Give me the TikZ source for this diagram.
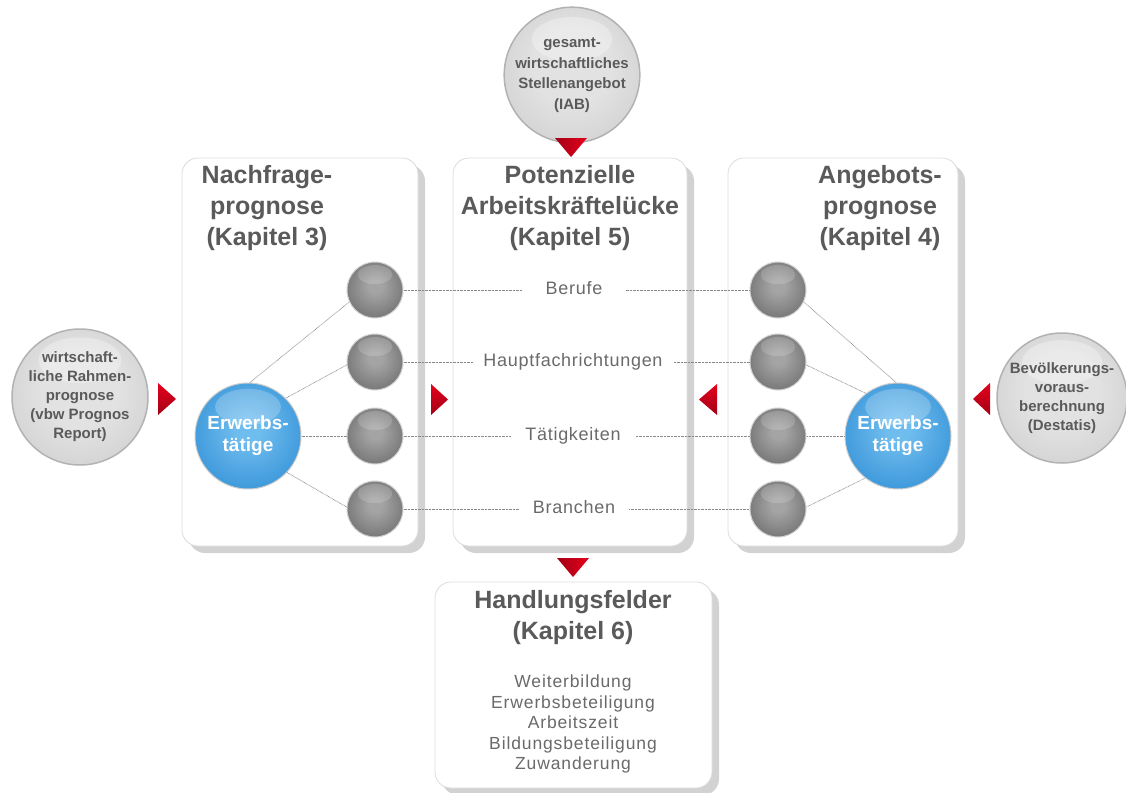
\documentclass[tikz,border=0pt]{standalone}
\usepackage{fontspec}
\setmainfont{Liberation Sans}
\usetikzlibrary{shadows}
\definecolor{txt}{HTML}{5A5A5A}
\definecolor{lbl}{HTML}{6A6A6A}
\definecolor{shadowc}{HTML}{D2D2D2}
\definecolor{boxline}{HTML}{DCDCDC}
\definecolor{redA}{HTML}{E5001C}
\definecolor{redB}{HTML}{A30016}
\definecolor{dotc}{HTML}{8A8A8A}
\definecolor{dbA}{HTML}{A4A4A4}
\definecolor{dbB}{HTML}{6E6E6E}
\definecolor{dbC}{HTML}{353535}
\definecolor{blA}{HTML}{6FBCEE}
\definecolor{blB}{HTML}{3391D6}
\definecolor{blC}{HTML}{1B63A3}
\definecolor{gbA}{HTML}{E2E2E2}
\definecolor{gbB}{HTML}{CCCCCC}
\definecolor{gbC}{HTML}{A6A6A6}
\pgfdeclareradialshading{darkball}{\pgfpoint{0bp}{4bp}}{color(0bp)=(dbA); color(6bp)=(dbA); color(32bp)=(dbB); color(50bp)=(dbC)}
\pgfdeclareradialshading{blueball}{\pgfpoint{0bp}{4bp}}{color(0bp)=(blA); color(6bp)=(blA); color(32bp)=(blB); color(50bp)=(blC)}
\pgfdeclareradialshading{grayball}{\pgfpoint{0bp}{4bp}}{color(0bp)=(gbA); color(14bp)=(gbA); color(36bp)=(gbB); color(50bp)=(gbC)}
\tikzset{
  panel/.style={draw=boxline, line width=0.8pt, fill=white, rounded corners=16pt,
    drop shadow={shadow xshift=7pt, shadow yshift=-7pt, fill=shadowc, opacity=1}},
  glare/.style 2 args={path picture={\fill[white, fill opacity=#2]
      ([yshift=#1*0.55pt]path picture bounding box.center) ellipse [x radius=#1*0.62pt, y radius=#1*0.34pt];}},
  sphere/.style={circle, shading=darkball, draw=white!82!black, line width=1pt,
    minimum size=56pt, inner sep=0pt, glare={28}{0.16}},
  blueb/.style={circle, shading=blueball, draw=white!80!black, line width=1pt,
    minimum size=106pt, inner sep=0pt, glare={53}{0.22}, text=white, align=center,
    font=\fontsize{19}{22}\selectfont\bfseries},
  srcb/.style={circle, shading=grayball, draw=white!70!black, line width=1.5pt,
    inner sep=0pt, glare={#1}{0.3}, minimum size=2*#1 pt, text=txt, align=center},
  title/.style={anchor=north, inner sep=0pt, text=txt, align=center,
    font=\fontsize{25}{31}\selectfont\bfseries},
  rowlbl/.style={text=lbl, inner xsep=13pt, inner ysep=0pt, text height=13pt, text depth=4pt,
    font=\fontsize{18}{20}\selectfont\addfontfeatures{LetterSpace=4}},
  dotline/.style={draw=dotc, line width=0.7pt, dash pattern=on 0.7pt off 0.7pt},
  redL/.style={top color=redA, bottom color=redB},
  redD/.style={left color=redB, right color=redA}
}
\begin{document}
\begin{tikzpicture}[x=1pt, y=-1pt]
\useasboundingbox (0,0) rectangle (1126,792);

% panels
\node[panel, minimum width=236pt, minimum height=388pt] (pL) at (300,352) {};
\node[panel, minimum width=234pt, minimum height=388pt] (pM) at (570,352) {};
\node[panel, minimum width=230pt, minimum height=388pt] (pR) at (843,352) {};
\node[panel, minimum width=277pt, minimum height=206pt] (pB) at (573.5,685) {};

% titles
\node[title] (tL) at (267,165) {Nachfrage-\\prognose\\(Kapitel 3)};
\node[title] (tM) at (570,165) {Potenzielle\\Arbeitskräftelücke\\(Kapitel 5)};
\node[title] (tR) at (880,165) {Angebots-\\prognose\\(Kapitel 4)};
\node[title] (tB) at (573,590) {Handlungsfelder\\(Kapitel 6)};
\node[anchor=north, inner sep=0pt, text=lbl, align=center,
  font=\fontsize{17.5}{20.5}\selectfont\addfontfeatures{LetterSpace=5}]
  (items) at (573,675) {Weiterbildung\\Erwerbsbeteiligung\\Arbeitszeit\\Bildungsbeteiligung\\Zuwanderung};

% source balls
\node[srcb=67, font=\fontsize{15}{19}\selectfont\bfseries] (srcL) at (80,397)
  {wirtschaft-\\liche Rahmen-\\prognose\\(vbw Prognos\\Report)};
\node[srcb=65, font=\fontsize{15}{20.5}\selectfont\bfseries] (srcT) at (572,75)
  {gesamt-\\wirtschaftliches\\Stellenangebot\\(IAB)};
\node[srcb=65, font=\fontsize{15}{19}\selectfont\bfseries] (srcR) at (1062,398)
  {Bevölkerungs-\\voraus-\\berechnung\\(Destatis)};

% red triangles
\shade[redD] (555,138) -- (587,138) -- (571,157) -- cycle;
\shade[redD] (557,558) -- (589,558) -- (573,577) -- cycle;
\shade[redL] (158,383) -- (176,399) -- (158,415) -- cycle;
\shade[redL] (431,384) -- (448,399.5) -- (431,415) -- cycle;
\shade[redL] (717,384) -- (699,399.5) -- (717,415) -- cycle;
\shade[redL] (990,383) -- (973,399) -- (990,415) -- cycle;

% blue balls
\node[blueb] (bL) at (248,436) {Erwerbs-\\tätige};
\node[blueb] (bR) at (898,436) {Erwerbs-\\tätige};

% spheres
\node[sphere] (l1) at (375,290) {};
\node[sphere] (l2) at (375,362) {};
\node[sphere] (l3) at (375,436) {};
\node[sphere] (l4) at (375,509) {};
\node[sphere] (r1) at (778,290) {};
\node[sphere] (r2) at (778,362) {};
\node[sphere] (r3) at (778,436) {};
\node[sphere] (r4) at (778,509) {};

% row labels
\node[rowlbl, inner xsep=23pt] (k1) at (574,290) {Berufe};
\node[rowlbl, inner xsep=11pt] (k2) at (573,362) {Hauptfachrichtungen};
\node[rowlbl, inner xsep=15pt] (k3) at (573,436) {Tätigkeiten};
\node[rowlbl, inner xsep=14pt] (k4) at (574,509) {Branchen};

% connectors
\draw[dotline] (bL.88) -- (l1.205);
\draw[dotline] (bL.45) -- (l2.186);
\draw[dotline] (bL.east) -- (l3.west);
\draw[dotline] (bL.-43) -- (l4.176);
\draw[dotline] (bR.92) -- (r1.-25);
\draw[dotline] (bR.127) -- (r2.-6);
\draw[dotline] (bR.west) -- (r3.east);
\draw[dotline] (bR.232) -- (r4.4);

\draw[dotline] (l1.east) -- (k1.west);
\draw[dotline] (k1.east) -- (r1.west);
\draw[dotline] (l2.east) -- (k2.west);
\draw[dotline] (k2.east) -- (r2.west);
\draw[dotline] (l3.east) -- (k3.west);
\draw[dotline] (k3.east) -- (r3.west);
\draw[dotline] (l4.east) -- (k4.west);
\draw[dotline] (k4.east) -- (r4.west);
\end{tikzpicture}
\end{document}
